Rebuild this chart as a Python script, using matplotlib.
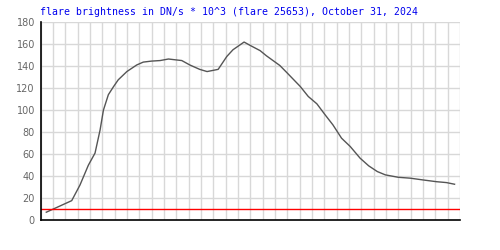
import numpy as np
import matplotlib.pyplot as plt

title = 'flare brightness in DN/s * 10^3 (flare 25653), October 31, 2024'

# time in grid columns (no labels on the x axis), brightness in DN/s * 10^3
t = [0.47, 2.53, 3.2, 3.88, 4.42, 4.83, 5.1, 5.5, 5.9, 6.3, 7.0, 7.8, 8.33,
     9.0, 9.7, 10.37, 10.9, 11.45, 12.1, 12.9, 13.5, 14.4, 15.1, 15.6, 16.5,
     17.0, 17.8, 18.3, 19.4, 19.97, 21.05, 21.7, 22.4, 23.07, 23.7, 24.4,
     25.1, 25.9, 26.6, 27.3, 27.95, 29.0, 29.97, 31.0, 32.1, 32.9, 33.56]
flux = [7.3, 17.8, 32, 50, 61, 82, 100, 114, 121, 127.5, 135, 141, 143.6,
        144.5, 145, 146.4, 145.7, 145, 141, 137, 135, 137, 148.7, 154.8, 161.8,
        158.7, 154, 149.4, 140.5, 134, 121.5, 112.4, 105.7, 95.7, 86.6, 74.5,
        67, 56.4, 49.4, 44.2, 41.2, 39, 38.2, 36.6, 35, 34.2, 32.7]
threshold = 10

fig = plt.figure(figsize=(5, 2.5), dpi=100)
ax = fig.add_axes([0.081, 0.119, 0.839, 0.793])

ax.plot(t, flux, color='#555555', lw=1)
ax.axhline(threshold, color='#ff0000', lw=1)

ax.set_xlim(0, 34)
ax.set_ylim(0, 180)
ax.set_xticks(np.arange(0, 35, 1))
ax.set_xticklabels([])
ax.set_yticks(np.arange(0, 181, 20))
ax.grid(True, color='#d8d8d8', lw=1)
ax.set_axisbelow(True)
ax.tick_params(length=0, labelsize=7, labelcolor='#666666', pad=4)

for s in ['top', 'right']:
    ax.spines[s].set_visible(False)
for s in ['left', 'bottom']:
    ax.spines[s].set_color('black')
    ax.spines[s].set_linewidth(1.2)

fig.text(0.08, 0.952, title, family='DejaVu Sans Mono', fontsize=7.1,
         color='#0000ee', va='center', ha='left')

fig.savefig('out.png', dpi=100)
